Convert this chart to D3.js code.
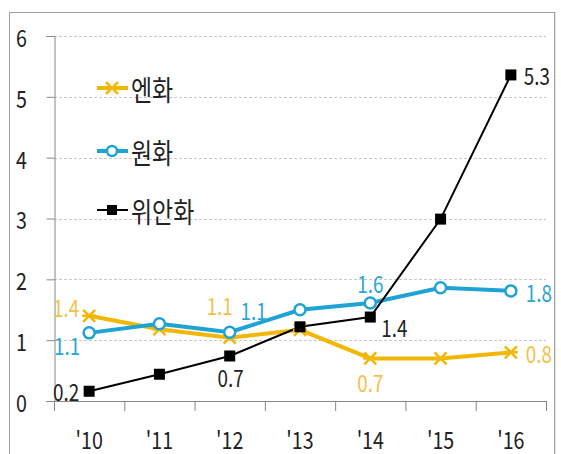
<!DOCTYPE html>
<html><head><meta charset="utf-8">
<script src="https://cdn.jsdelivr.net/npm/d3@7"></script>
<style>
html,body{margin:0;padding:0;background:#fff;}
text{font-family:"Noto Sans CJK KR","Noto Sans",sans-serif;}
</style></head><body>
<svg id="c" width="561" height="454"></svg>
<script>
const categories = ["'10","'11","'12","'13","'14","'15","'16"];
const yenValues  = [1.4, 1.18, 1.04, 1.17, 0.7, 0.7, 0.8];
const wonValues  = [1.12, 1.27, 1.13, 1.5, 1.61, 1.86, 1.81];
const yuanValues = [0.16, 0.44, 0.74, 1.22, 1.38, 2.99, 5.36];
const yTicks = [0,1,2,3,4,5,6];
const seriesNames = ["엔화","원화","위안화"];
const yenLabels  = [[0,"1.4"],[2,"1.1"],[4,"0.7"],[6,"0.8"]];
const wonLabels  = [[0,"1.1"],[2,"1.1"],[4,"1.6"],[6,"1.8"]];
const yuanLabels = [[0,"0.2"],[2,"0.7"],[4,"1.4"],[6,"5.3"]];

const SX = 0.82;
function condense(sel){
  sel.each(function(){
    const t=d3.select(this);
    const x=+t.attr("x")||0, y=+t.attr("y")||0;
    t.attr("transform",`translate(${x},${y}) scale(${SX},1) translate(${-x},${-y})`);
  });
}

const svg = d3.select("#c");
const x = d3.scaleBand().domain(categories).range([54,546]);
const y = d3.scaleLinear().domain([0,6]).range([401,36]);
const cx = c => x(c) + x.bandwidth()/2;

// outer frame
svg.append("rect").attr("x",9.5).attr("y",12.5).attr("width",545).attr("height",460)
  .attr("fill","none").attr("stroke","#a0a0a0").attr("stroke-width",1);
svg.append("line").attr("x1",555.5).attr("x2",555.5).attr("y1",12).attr("y2",454).attr("stroke","#e4e4e4");

// gridlines
svg.append("g").selectAll("line").data(yTicks.filter(d=>d>0)).join("line")
  .attr("x1",54).attr("x2",546).attr("y1",d=>Math.round(y(d))+0.5).attr("y2",d=>Math.round(y(d))+0.5)
  .attr("stroke","#c8c8c8").attr("stroke-dasharray","3,2").attr("stroke-width",1);

// y axis
const yAx = svg.append("g").attr("transform","translate(54.5,0)")
  .call(d3.axisLeft(y).tickValues(yTicks).tickSize(8).tickFormat(d3.format("d")));
yAx.select(".domain").attr("stroke","#888");
yAx.selectAll(".tick line").attr("stroke","#888");
yAx.selectAll("text").attr("font-size",24).attr("fill","#222").attr("text-anchor","middle")
  .attr("x",-33).attr("dy",null).attr("y",0).attr("dominant-baseline","central").call(condense);

// x axis
const xAx = svg.append("g").attr("transform","translate(0,401.5)")
  .call(d3.axisBottom(x).tickSize(0));
xAx.select(".domain").attr("stroke","#888").attr("d","M46,0H546");
xAx.selectAll("text").attr("font-size",24).attr("fill","#222")
  .attr("dy",null).attr("y",37).attr("dominant-baseline","central").call(condense);
// boundary ticks
svg.append("g").selectAll("line").data(categories.concat(["end"])).join("line")
  .attr("x1",(d,i)=>54+i*x.bandwidth()+0.5).attr("x2",(d,i)=>54+i*x.bandwidth()+0.5)
  .attr("y1",401).attr("y2",411).attr("stroke","#888");

const line = d3.line().x((d,i)=>cx(categories[i])).y(d=>y(d));

const yenColor="#F2B705", wonColor="#1FA3D4", yuanColor="#000";
const yenText="#F3C14A", wonText="#2AA5D6";

svg.append("path").attr("d",line(yenValues)).attr("fill","none").attr("stroke",yenColor).attr("stroke-width",4);
svg.append("path").attr("d",line(wonValues)).attr("fill","none").attr("stroke",wonColor).attr("stroke-width",4);
svg.append("path").attr("d",line(yuanValues)).attr("fill","none").attr("stroke",yuanColor).attr("stroke-width",2);

function xMark(g, px, py, col){
  const s=6;
  g.append("path").attr("d",`M${px-s},${py-s}L${px+s},${py+s}M${px-s},${py+s}L${px+s},${py-s}M${px-s-1},${py}L${px+s+1},${py}`)
   .attr("stroke",col).attr("stroke-width",2.5).attr("fill","none");
}
const gY = svg.append("g");
yenValues.forEach((v,i)=>xMark(gY,cx(categories[i]),y(v),yenColor));
svg.append("g").selectAll("circle").data(wonValues).join("circle")
  .attr("cx",(d,i)=>cx(categories[i])).attr("cy",d=>y(d)).attr("r",5.5)
  .attr("fill","#fff").attr("stroke",wonColor).attr("stroke-width",2.5);
svg.append("g").selectAll("rect").data(yuanValues).join("rect")
  .attr("x",(d,i)=>cx(categories[i])-5.5).attr("y",d=>y(d)-5.5).attr("width",11).attr("height",11)
  .attr("fill","#000");

// data labels
const lab = svg.append("g").attr("font-size",23);
function addLabels(list, vals, col, offs){
  list.forEach(([i,t],k)=>{
    lab.append("text").attr("x",cx(categories[i])+offs[k][0]).attr("y",y(vals[i])+offs[k][1])
      .attr("text-anchor","middle").attr("dominant-baseline","central").attr("fill",col).text(t)
      .call(condense);
  });
}
addLabels(yenLabels, yenValues, yenText, [[-23,-9],[-10,-33],[0,24],[28,1]]);
addLabels(wonLabels, wonValues, wonText, [[-22,12],[24,-22],[0,-20],[28,1]]);
addLabels(yuanLabels, yuanValues, "#222", [[-23,0],[1,21],[24,10],[26,0]]);

// legend
const legItems = [
  {name:seriesNames[0], col:yenColor, type:"x", y:88},
  {name:seriesNames[1], col:wonColor, type:"o", y:151},
  {name:seriesNames[2], col:"#000", type:"s", y:210}
];
const leg = svg.append("g");
legItems.forEach(it=>{
  leg.append("line").attr("x1",97).attr("x2",128).attr("y1",it.y).attr("y2",it.y)
    .attr("stroke",it.col).attr("stroke-width",it.type==="s"?2:4);
  if(it.type==="x") xMark(leg,112,it.y,it.col);
  if(it.type==="o") leg.append("circle").attr("cx",112).attr("cy",it.y).attr("r",5).attr("fill","#fff").attr("stroke",it.col).attr("stroke-width",2.5);
  if(it.type==="s") leg.append("rect").attr("x",107).attr("y",it.y-5).attr("width",10).attr("height",10).attr("fill","#000");
  leg.append("text").attr("x",131).attr("y",it.y).attr("dominant-baseline","central")
    .attr("font-size",28).attr("fill","#222").text(it.name).call(condense);
});
</script>
</body></html>
